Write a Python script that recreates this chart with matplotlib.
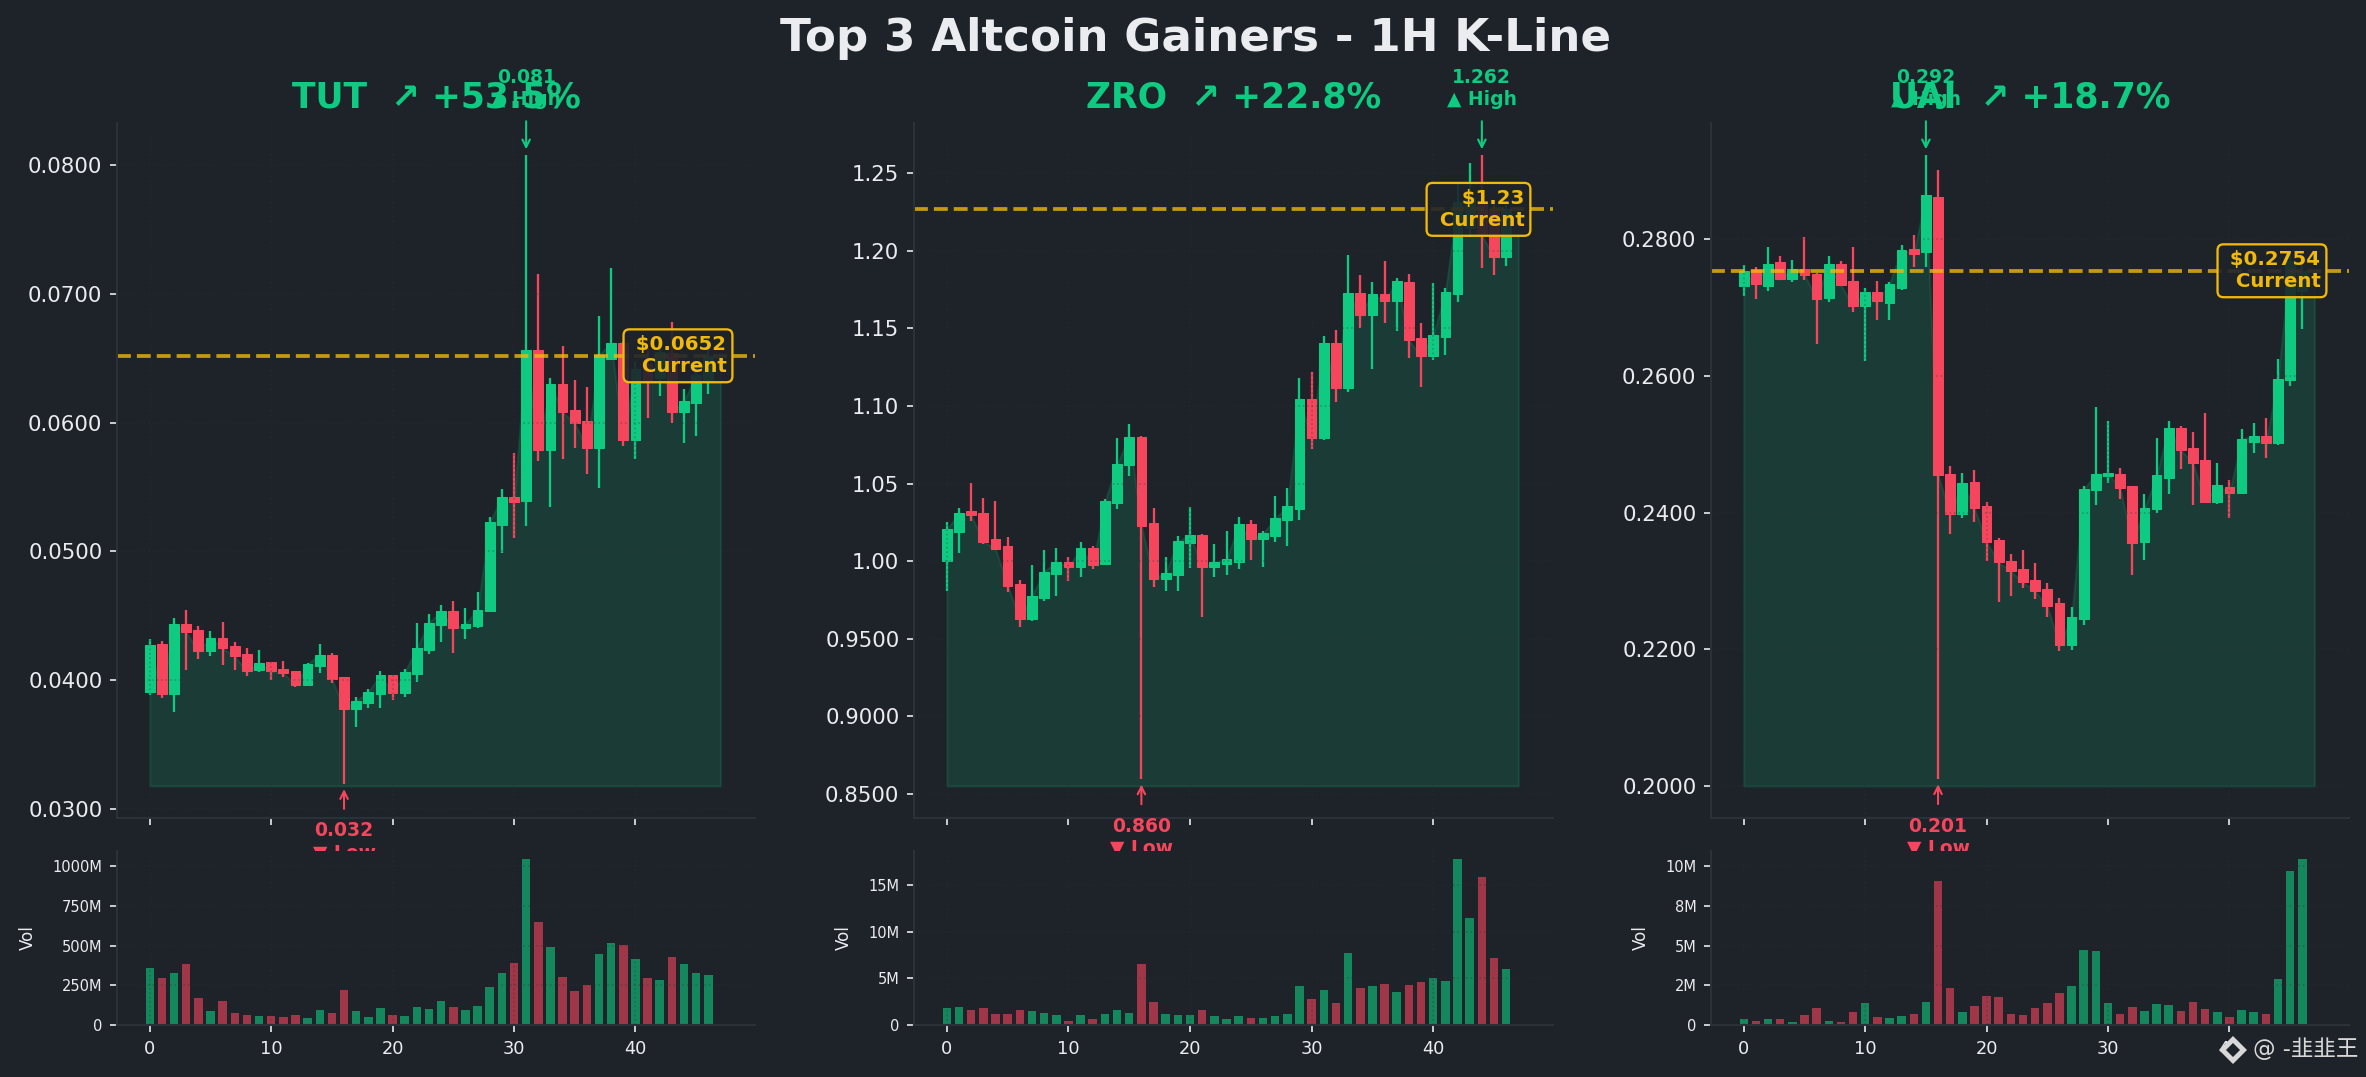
import matplotlib
matplotlib.use("Agg")
import numpy as np
import matplotlib.pyplot as plt
from matplotlib.lines import Line2D
from matplotlib.ticker import FuncFormatter

plt.rcParams['font.family'] = ['DejaVu Sans', 'Noto Sans CJK SC']

W, H, DPI = 2366, 1077, 150
BG = '#1E2329'; GREEN = '#0ECB81'; RED = '#F6465D'; GOLD = '#F0B90B'
SPINE = '#2B3139'; TEXT = '#EAECEF'

suptitle = 'Top 3 Altcoin Gainers - 1H K-Line'

# ---------- TUT ----------
tut_open = [.03907,.04282,.03891,.04439,.04391,.04226,.04330,.04266,.04205,.04077,.04138,.04088,.04072,.03963,.04109,.04197,
            .04027,.03776,.03824,.03891,.04043,.03899,.04048,.04234,.04429,.04541,.04402,.04421,.04541,.05209,.05425,.05389,
            .06567,.05789,.06303,.06100,.06014,.05803,.06497,.06617,.05868,.06460,.06350,.06545,.06081,.06156,.06320]
tut_high = [.04322,.04306,.04485,.04549,.04423,.04383,.04453,.04298,.04253,.04237,.04144,.04152,.04072,.04133,.04282,.04213,
            .04027,.03870,.03933,.04075,.04043,.04088,.04447,.04511,.04586,.04618,.04562,.04687,.05270,.05486,.05764,.08083,
            .07158,.06350,.06597,.06333,.06280,.06830,.07205,.06625,.06480,.06580,.06650,.06783,.06264,.06480,.06650]
tut_low = [.03883,.03862,.03752,.04077,.04165,.04186,.04117,.04077,.04032,.04061,.04000,.04027,.03947,.03955,.04056,.03976,
           .03195,.03635,.03787,.03782,.03846,.03870,.03984,.04202,.04296,.04210,.04320,.04402,.04541,.04988,.05103,.05200,
           .05700,.05347,.05717,.05803,.05600,.05492,.06486,.05817,.05717,.06040,.06210,.05997,.05842,.05894,.06220]
tut_close = [.04274,.03891,.04439,.04373,.04226,.04330,.04250,.04186,.04069,.04136,.04069,.04056,.03963,.04128,.04197,.04011,
             .03776,.03840,.03909,.04043,.03899,.04064,.04253,.04447,.04541,.04402,.04439,.04549,.05228,.05422,.05386,.06567,
             .05789,.06303,.06081,.05997,.05803,.06525,.06622,.05867,.06420,.06320,.06550,.06081,.06169,.06370,.06520]
tut_vol = [358,295,328,384,169,87,150,74,61,54,54,48,61,41,93,74,219,87,48,104,61,54,111,98,150,111,93,117,239,328,390,1043,
           651,492,301,213,252,447,516,503,414,295,282,427,384,328,315]
tut_yticks = [.03,.04,.05,.06,.07,.08]
tut_volticks = [0,250,500,750,1000]

# ---------- ZRO ----------
zro_open = [1.0004,1.0189,1.0321,1.0308,1.0140,1.0095,.9856,.9627,.9765,.9920,.9996,.9963,1.0082,.9985,1.0373,1.0618,
            1.0798,1.0243,.9888,.9912,1.0118,1.0172,.9963,.9981,.9996,1.0237,1.0140,1.0164,1.0263,1.0338,1.1045,1.0793,
            1.1407,1.1116,1.1730,1.1587,1.1723,1.1675,1.1799,1.1439,1.1322,1.1444,1.1723,1.2150,1.2300,1.2270,1.1957]
zro_high = [1.0250,1.0345,1.0502,1.0405,1.0385,1.0153,.9882,.9978,1.0075,1.0082,1.0024,1.0121,1.0095,1.0398,1.0793,1.0883,
            1.0809,1.0340,1.0028,1.0164,1.0347,1.0176,1.0108,1.0192,1.0282,1.0263,1.0196,1.0418,1.0469,1.1183,1.1218,1.1451,
            1.1490,1.1970,1.1845,1.1799,1.1935,1.1827,1.1852,1.1536,1.1795,1.1762,1.2429,1.2563,1.2620,1.2300,1.2310]
zro_low = [.9808,1.0054,1.0261,1.0114,1.0075,.9802,.9577,.9615,.9744,.9776,.9875,.9899,.9950,.9985,1.0334,1.0551,
           .8595,.9834,.9808,.9808,.9959,.9640,.9899,.9912,.9950,1.0009,.9963,1.0125,1.0099,1.0265,1.0726,1.0779,
           1.1028,1.1093,1.1501,1.1236,1.1534,1.1481,1.1308,1.1125,1.1294,1.1326,1.1670,1.2090,1.1892,1.1843,1.1905]
zro_close = [1.0205,1.0312,1.0295,1.0125,1.0080,.9843,.9627,.9778,.9933,.9996,.9963,1.0082,.9978,1.0385,1.0629,1.0798,
             1.0230,.9888,.9927,1.0127,1.0172,.9963,.9996,1.0011,1.0237,1.0140,1.0179,1.0276,1.0353,1.1045,1.0793,1.1407,
             1.1116,1.1730,1.1587,1.1723,1.1675,1.1806,1.1423,1.1322,1.1458,1.1734,1.2313,1.2340,1.2100,1.1957,1.2267]
zro_vol = [1.77,1.88,1.66,1.77,1.14,1.14,1.66,1.55,1.25,1.03,.48,1.03,.59,1.14,1.66,1.25,6.53,2.44,1.14,1.03,1.03,1.66,.92,.59,
           .92,.70,.70,.92,1.14,4.17,2.77,3.73,2.32,7.71,3.95,4.17,4.35,3.51,4.28,4.58,5.02,4.69,17.75,11.48,15.9,7.16,5.98]
zro_yticks = [.85,.90,.95,1.00,1.05,1.10,1.15,1.20,1.25]
zro_volticks = [0,5,10,15]

# ---------- UAI ----------
uai_open = [.27314,.27550,.27314,.27670,.27419,.27565,.27497,.27147,.27644,.27393,.27021,.27230,.27068,.27288,.27864,.27812,
            .28623,.24565,.23974,.24445,.24098,.23600,.23297,.23175,.23013,.22882,.22676,.22061,.22442,.24330,.24534,.24565,
            .24387,.23576,.24047,.24513,.25236,.24942,.24770,.24162,.24372,.24288,.25037,.25120,.25026,.25942,.27250]
uai_high = [.27628,.27602,.27890,.27759,.27702,.28037,.27513,.27759,.27686,.27890,.27288,.27393,.27377,.27911,.28068,.29241,
            .29021,.24681,.24576,.24623,.24156,.23629,.23394,.23453,.23263,.22970,.22750,.22623,.24396,.25550,.25346,.24654,
            .24387,.24277,.25094,.25340,.25272,.25183,.25455,.24723,.24476,.25225,.25309,.25387,.26251,.27790,.27750]
uai_low = [.27168,.27126,.27241,.27414,.27372,.27403,.26466,.27079,.27314,.26932,.26215,.26817,.26817,.27257,.27592,.27602,
           .20100,.23681,.23927,.23859,.23287,.22686,.22784,.22891,.22730,.22466,.21978,.21993,.22349,.24105,.24435,.24194,
           .23090,.23305,.24000,.24267,.24634,.24110,.24147,.24120,.23927,.24288,.24874,.24796,.24984,.25858,.26690]
uai_close = [.27539,.27346,.27644,.27414,.27565,.27482,.27126,.27644,.27330,.27021,.27230,.27094,.27351,.27848,.27785,.28654,
             .24550,.23974,.24429,.24063,.23565,.23272,.23140,.22979,.22852,.22628,.22061,.22466,.24347,.24565,.24576,.24356,
             .23560,.24063,.24550,.25236,.24916,.24723,.24162,.24403,.24288,.25079,.25120,.25026,.25958,.27690,.27540]
uai_vol = [.35,.28,.35,.35,.22,.61,1.04,.28,.22,.80,1.37,.48,.41,.54,.67,1.43,9.09,2.32,.80,1.17,1.80,1.76,.67,.61,1.04,1.37,
           2.00,2.45,4.73,4.66,1.37,.67,1.11,.87,1.30,1.24,.87,1.43,.98,.80,.48,.93,.80,.67,2.88,9.67,10.43]
uai_yticks = [.20,.22,.24,.26,.28]
uai_volticks = [0,2.5,5,7.5,10]

symbols = ['TUT', 'ZRO', 'UAI']
changes = [53.5, 22.8, 18.7]
opens = [tut_open, zro_open, uai_open]
highs = [tut_high, zro_high, uai_high]
lows = [tut_low, zro_low, uai_low]
closes = [tut_close, zro_close, uai_close]
volumes = [tut_vol, zro_vol, uai_vol]
yticks = [tut_yticks, zro_yticks, uai_yticks]
volticks = [tut_volticks, zro_volticks, uai_volticks]
xticks = [0, 10, 20, 30, 40]
high_labels = ['0.081', '1.262', '0.292']
low_labels = ['0.032', '0.860', '0.201']
cur_labels = ['$0.0652', '$1.23', '$0.2754']

fig = plt.figure(figsize=(W / DPI, H / DPI), dpi=DPI, facecolor=BG)

def box(l, t, r, b):
    return [l / W, 1 - b / H, (r - l) / W, (b - t) / H]

lefts = [117, 914, 1711]
rights = [755, 1553, 2349]

def price_fmt(v, _=None):
    return f'{v:.2f}' if v >= 1 else f'{v:.4f}'

def vol_fmt(v, _=None):
    return '0' if v == 0 else f'{v:.0f}M'

def style(ax):
    ax.set_facecolor(BG)
    for s in ('top', 'right'):
        ax.spines[s].set_visible(False)
    for s in ('left', 'bottom'):
        ax.spines[s].set_color(SPINE)
        ax.spines[s].set_linewidth(1.0)
    ax.grid(True, color=SPINE, alpha=0.3, ls=':', lw=0.8)
    ax.set_xlim(-2.7, 49.85)
    ax.set_xticks(xticks)

for k in range(3):
    ax = fig.add_axes(box(lefts[k], 123, rights[k], 817.5), zorder=1)
    av = fig.add_axes(box(lefts[k], 851, rights[k], 1025), zorder=2)
    style(ax); style(av)

    o, h, l, c = map(np.array, (opens[k], highs[k], lows[k], closes[k]))
    v = np.array(volumes[k])
    x = np.arange(len(o))
    up = c >= o
    cols = np.where(up, GREEN, RED)

    base = l.min() * 0.995
    xf = np.arange(len(c) + 1)
    ax.fill_between(xf, np.append(c, c[-1]), base, color=GREEN, alpha=0.15, zorder=1)
    ax.vlines(x, l, h, colors=cols, lw=1.1, zorder=1.1)
    ax.bar(x, np.abs(c - o), bottom=np.minimum(o, c), width=0.8, color=cols,
           edgecolor=cols, linewidth=0.5, zorder=1.2)

    cur = c[-1]
    ax.axhline(cur, color=GOLD, ls='--', lw=1.8, alpha=0.8)
    ax.text(47.5, cur, f' {cur_labels[k]}\n Current', color=GOLD, fontsize=9.5, fontweight='bold',
            ha='right', va='center', zorder=6,
            bbox=dict(boxstyle='round,pad=0.3', fc=(0x1E/255, 0x23/255, 0x29/255, 0.9), ec=GOLD, lw=1.1))

    ih, il = int(h.argmax()), int(l.argmin())
    ax.annotate(f'{high_labels[k]}\n▲ High', xy=(ih, h[ih]), xytext=(0, 22), textcoords='offset points',
                ha='center', va='bottom', color=GREEN, fontsize=9, fontweight='bold', annotation_clip=False,
                arrowprops=dict(arrowstyle='->', color=GREEN, lw=1.0, shrinkA=4, shrinkB=2.5))
    ax.annotate(f'{low_labels[k]}\n▼ Low', xy=(il, l[il]), xytext=(0, -18), textcoords='offset points',
                ha='center', va='top', color=RED, fontsize=9, fontweight='bold', annotation_clip=False,
                arrowprops=dict(arrowstyle='->', color=RED, lw=1.0, shrinkA=4, shrinkB=2.5))

    ax.margins(y=0.05)
    ax.autoscale(axis='y')
    ax.set_yticks(yticks[k])
    ax.yaxis.set_major_formatter(FuncFormatter(price_fmt))
    ax.tick_params(axis='y', colors=TEXT, labelsize=10.2)
    ax.tick_params(axis='x', colors=TEXT, labelbottom=False)
    ax.set_xlim(-2.7, 49.85)
    ax.set_title(f'{symbols[k]}  ↗ +{changes[k]:.1f}%', color=GREEN, fontsize=16.6, fontweight='bold', pad=7.5)

    av.bar(x, v, width=0.7, color=cols, alpha=0.6)
    av.set_yticks(volticks[k])
    av.yaxis.set_major_formatter(FuncFormatter(vol_fmt))
    av.tick_params(axis='y', colors=TEXT, labelsize=7)
    av.tick_params(axis='x', colors=TEXT, labelsize=8.5)
    av.set_xlim(-2.7, 49.85)
    av.set_ylabel('Vol', color=TEXT, fontsize=8, labelpad=7.5)

fig.text(1196 / W, 1 - 38 / H, suptitle, color=TEXT, fontsize=21.7, fontweight='bold', ha='center', va='center')

# watermark
fig.add_artist(Line2D([2233 / W], [1 - 1050 / H], marker='D', ms=9.5, mfc='#D8D8D8', mec='none', transform=fig.transFigure, zorder=10))
fig.add_artist(Line2D([2233 / W], [1 - 1050 / H], marker='D', ms=4.5, mfc=BG, mec='none', transform=fig.transFigure, zorder=11))
fig.text(2253 / W, 1 - 1050 / H, '@ -韭韭王', color='#D8D8D8', fontsize=10.8, ha='left', va='center', zorder=10)

fig.savefig('out.png', dpi=DPI, facecolor=BG)
